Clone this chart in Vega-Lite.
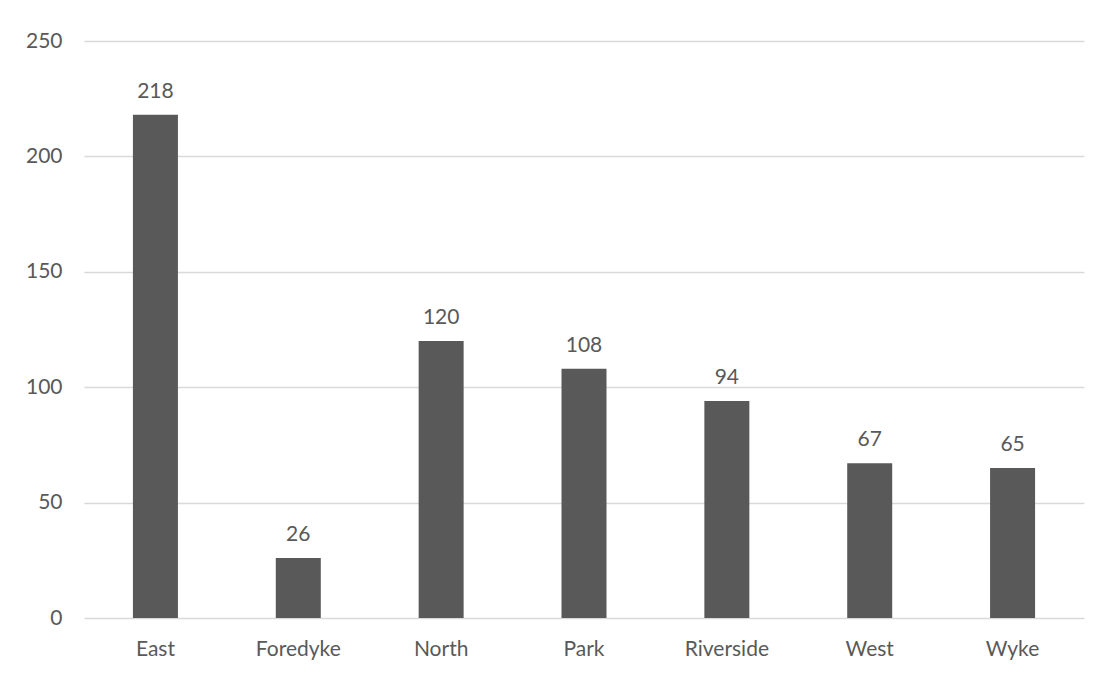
{
  "$schema": "https://vega.github.io/schema/vega-lite/v6.json",
  "autosize": "none",
  "padding": {"left": 84, "top": 41, "right": 24, "bottom": 55},
  "width": 1000,
  "height": 577,
  "background": "white",
  "config": {
    "view": {"stroke": null},
    "font": "Lato",
    "axis": {"labelFont": "Lato", "labelColor": "#595959", "labelFontSize": 21}
  },
  "data": {
    "values": [
      {"ward": "East", "count": 218},
      {"ward": "Foredyke", "count": 26},
      {"ward": "North", "count": 120},
      {"ward": "Park", "count": 108},
      {"ward": "Riverside", "count": 94},
      {"ward": "West", "count": 67},
      {"ward": "Wyke", "count": 65}
    ]
  },
  "encoding": {
    "x": {
      "field": "ward",
      "type": "nominal",
      "sort": null,
      "scale": {"paddingInner": 0.685, "paddingOuter": 0.3425},
      "axis": {"title": null, "labelAngle": 0, "domain": false, "ticks": false, "labelPadding": 20}
    },
    "y": {
      "field": "count",
      "type": "quantitative",
      "scale": {"domain": [0, 250]},
      "axis": {"title": null, "values": [0, 50, 100, 150, 200, 250], "domain": false, "ticks": false, "labelPadding": 22, "gridColor": "#d9d9d9", "gridWidth": 1.5, "gridOpacity": 1}
    }
  },
  "layer": [
    {"mark": {"type": "bar", "color": "#595959"}},
    {
      "mark": {"type": "text", "baseline": "alphabetic", "dy": -17, "fontSize": 21, "color": "#595959", "font": "Lato"},
      "encoding": {"text": {"field": "count", "type": "quantitative"}}
    }
  ]
}
